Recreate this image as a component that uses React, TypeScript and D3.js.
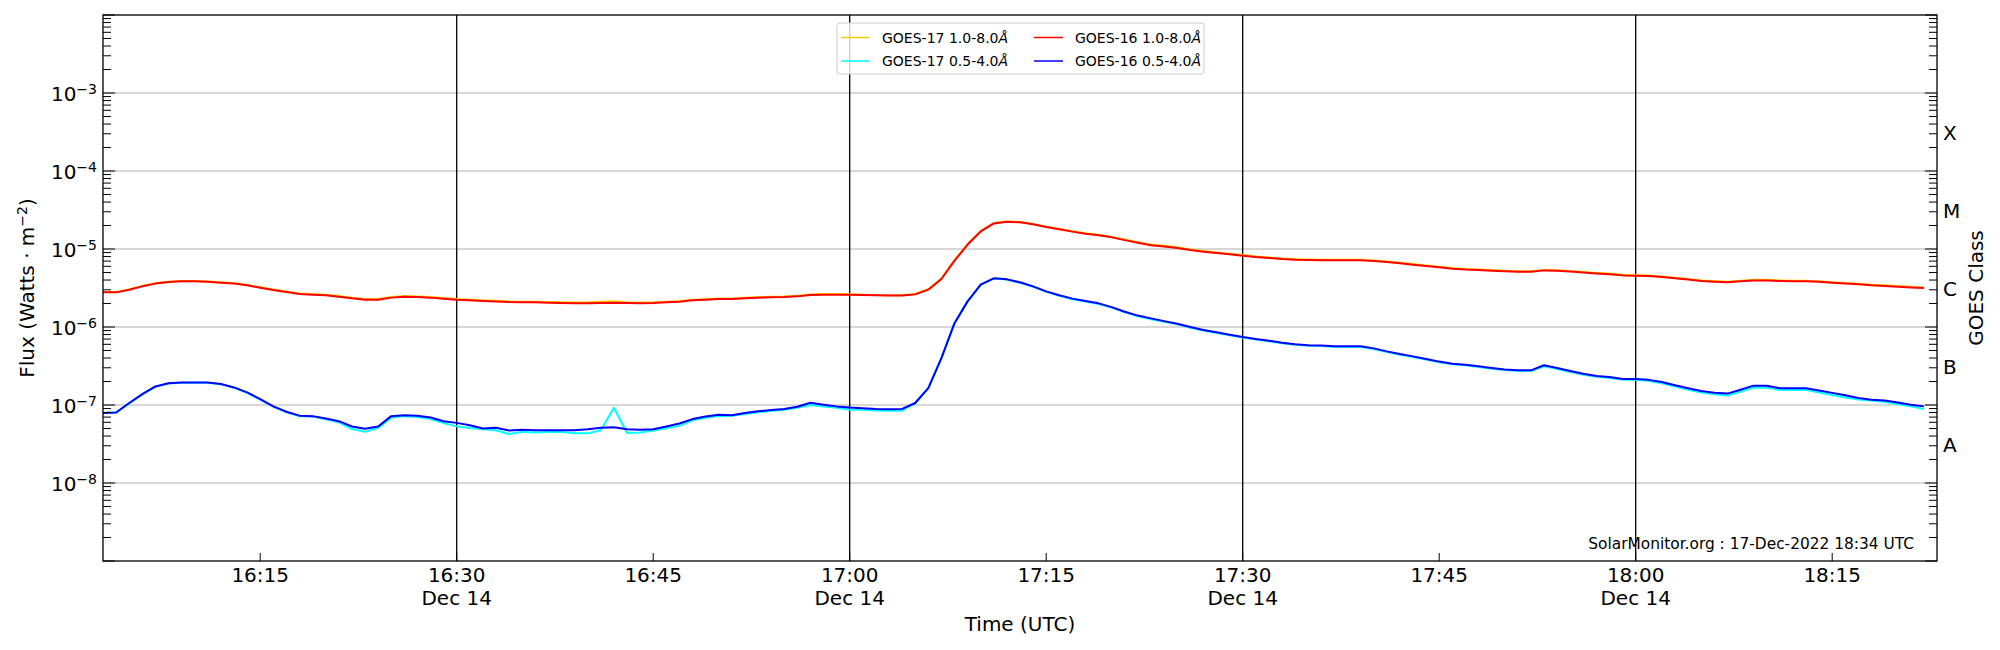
import { useEffect, useRef } from 'react';
import * as d3 from 'd3';

const WIDTH = 2000;
const HEIGHT = 650;

// one sample per minute, 16:03 -> 18:22 UTC
const START = new Date('2022-12-14T16:03:00Z');
const END = new Date('2022-12-14T18:23:00Z');

const GOES17_LONG = [
  2.82e-6, 2.82e-6, 3.05e-6, 3.36e-6, 3.64e-6, 3.81e-6, 3.89e-6, 3.89e-6, 3.84e-6, 3.74e-6,
  3.64e-6, 3.46e-6, 3.23e-6, 3.02e-6, 2.85e-6, 2.69e-6, 2.64e-6, 2.59e-6, 2.49e-6, 2.37e-6,
  2.28e-6, 2.28e-6, 2.42e-6, 2.49e-6, 2.46e-6, 2.42e-6, 2.35e-6, 2.28e-6, 2.24e-6, 2.2e-6,
  2.17e-6, 2.13e-6, 2.11e-6, 2.11e-6, 2.09e-6, 2.07e-6, 2.06e-6, 2.07e-6, 2.1e-6, 2.14e-6,
  2.08e-6, 2.06e-6, 2.07e-6, 2.11e-6, 2.15e-6, 2.24e-6, 2.28e-6, 2.32e-6, 2.32e-6, 2.37e-6,
  2.42e-6, 2.44e-6, 2.46e-6, 2.51e-6, 2.61e-6, 2.64e-6, 2.64e-6, 2.63e-6, 2.6e-6, 2.58e-6,
  2.56e-6, 2.56e-6, 2.65e-6, 3.05e-6, 4.17e-6, 7.15e-6, 1.15e-5, 1.7e-5, 2.15e-5, 2.26e-5,
  2.22e-5, 2.09e-5, 1.93e-5, 1.81e-5, 1.69e-5, 1.59e-5, 1.52e-5, 1.43e-5, 1.32e-5, 1.22e-5,
  1.14e-5, 1.1e-5, 1.05e-5, 9.85e-6, 9.4e-6, 9.03e-6, 8.68e-6, 8.35e-6, 8.02e-6, 7.79e-6,
  7.57e-6, 7.42e-6, 7.35e-6, 7.28e-6, 7.28e-6, 7.3e-6, 7.3e-6, 7.12e-6, 6.92e-6, 6.66e-6,
  6.41e-6, 6.15e-6, 5.92e-6, 5.7e-6, 5.55e-6, 5.47e-6, 5.37e-6, 5.27e-6, 5.19e-6, 5.19e-6,
  5.4e-6, 5.36e-6, 5.22e-6, 5.06e-6, 4.93e-6, 4.84e-6, 4.67e-6, 4.62e-6, 4.57e-6, 4.44e-6,
  4.28e-6, 4.12e-6, 3.96e-6, 3.88e-6, 3.81e-6, 3.91e-6, 4.02e-6, 4.02e-6, 3.95e-6, 3.91e-6,
  3.91e-6, 3.87e-6, 3.76e-6, 3.66e-6, 3.59e-6, 3.48e-6, 3.42e-6, 3.35e-6, 3.28e-6, 3.22e-6,
];

const GOES17_SHORT = [
  7.9e-8, 8.0e-8, 1.05e-7, 1.37e-7, 1.72e-7, 1.89e-7, 1.93e-7, 1.93e-7, 1.93e-7, 1.85e-7,
  1.66e-7, 1.43e-7, 1.17e-7, 9.5e-8, 8.1e-8, 7.16e-8, 7.1e-8, 6.55e-8, 6.0e-8, 4.92e-8,
  4.55e-8, 5.07e-8, 6.85e-8, 7.2e-8, 7.0e-8, 6.6e-8, 5.88e-8, 5.32e-8, 5.07e-8, 4.88e-8,
  4.75e-8, 4.25e-8, 4.55e-8, 4.45e-8, 4.5e-8, 4.5e-8, 4.33e-8, 4.33e-8, 4.75e-8, 9.2e-8,
  4.37e-8, 4.45e-8, 4.7e-8, 5.02e-8, 5.4e-8, 6.35e-8, 6.85e-8, 7.2e-8, 7.3e-8, 7.67e-8,
  8.07e-8, 8.38e-8, 8.7e-8, 9.2e-8, 1.0e-7, 9.6e-8, 9.2e-8, 8.7e-8, 8.7e-8, 8.5e-8,
  8.45e-8, 8.45e-8, 1.06e-7, 1.65e-7, 4.0e-7, 1.12e-6, 2.13e-6, 3.48e-6, 4.2e-6, 4.07e-6,
  3.68e-6, 3.27e-6, 2.82e-6, 2.51e-6, 2.27e-6, 2.12e-6, 1.97e-6, 1.77e-6, 1.54e-6, 1.37e-6,
  1.26e-6, 1.17e-6, 1.08e-6, 9.8e-7, 9.0e-7, 8.4e-7, 7.85e-7, 7.32e-7, 6.9e-7, 6.56e-7,
  6.2e-7, 5.9e-7, 5.75e-7, 5.7e-7, 5.55e-7, 5.55e-7, 5.55e-7, 5.22e-7, 4.78e-7, 4.42e-7,
  4.12e-7, 3.82e-7, 3.53e-7, 3.33e-7, 3.23e-7, 3.07e-7, 2.92e-7, 2.81e-7, 2.73e-7, 2.73e-7,
  3.13e-7, 2.9e-7, 2.65e-7, 2.45e-7, 2.31e-7, 2.22e-7, 2.11e-7, 2.11e-7, 2.03e-7, 1.9e-7,
  1.72e-7, 1.57e-7, 1.45e-7, 1.37e-7, 1.32e-7, 1.48e-7, 1.67e-7, 1.67e-7, 1.56e-7, 1.56e-7,
  1.57e-7, 1.45e-7, 1.34e-7, 1.25e-7, 1.18e-7, 1.14e-7, 1.09e-7, 1.03e-7, 9.6e-8, 8.9e-8,
];

const GOES16_LONG = [
  2.78e-6, 2.78e-6, 3.01e-6, 3.32e-6, 3.6e-6, 3.77e-6, 3.85e-6, 3.85e-6, 3.8e-6, 3.7e-6,
  3.6e-6, 3.42e-6, 3.19e-6, 2.98e-6, 2.81e-6, 2.65e-6, 2.6e-6, 2.55e-6, 2.45e-6, 2.33e-6,
  2.24e-6, 2.24e-6, 2.38e-6, 2.45e-6, 2.42e-6, 2.38e-6, 2.31e-6, 2.24e-6, 2.2e-6, 2.16e-6,
  2.13e-6, 2.09e-6, 2.07e-6, 2.07e-6, 2.05e-6, 2.03e-6, 2.02e-6, 2.02e-6, 2.03e-6, 2.05e-6,
  2.03e-6, 2.02e-6, 2.03e-6, 2.07e-6, 2.11e-6, 2.2e-6, 2.24e-6, 2.28e-6, 2.28e-6, 2.33e-6,
  2.38e-6, 2.4e-6, 2.42e-6, 2.47e-6, 2.57e-6, 2.6e-6, 2.6e-6, 2.6e-6, 2.57e-6, 2.55e-6,
  2.53e-6, 2.53e-6, 2.62e-6, 3.01e-6, 4.12e-6, 7.08e-6, 1.14e-5, 1.68e-5, 2.13e-5, 2.24e-5,
  2.2e-5, 2.07e-5, 1.91e-5, 1.79e-5, 1.67e-5, 1.57e-5, 1.5e-5, 1.41e-5, 1.3e-5, 1.2e-5,
  1.12e-5, 1.08e-5, 1.03e-5, 9.7e-6, 9.25e-6, 8.89e-6, 8.55e-6, 8.22e-6, 7.9e-6, 7.67e-6,
  7.45e-6, 7.3e-6, 7.23e-6, 7.16e-6, 7.16e-6, 7.16e-6, 7.16e-6, 7.0e-6, 6.81e-6, 6.55e-6,
  6.3e-6, 6.05e-6, 5.82e-6, 5.6e-6, 5.45e-6, 5.38e-6, 5.28e-6, 5.18e-6, 5.1e-6, 5.1e-6,
  5.32e-6, 5.28e-6, 5.14e-6, 4.98e-6, 4.85e-6, 4.76e-6, 4.59e-6, 4.55e-6, 4.5e-6, 4.37e-6,
  4.21e-6, 4.05e-6, 3.89e-6, 3.81e-6, 3.74e-6, 3.85e-6, 3.96e-6, 3.96e-6, 3.89e-6, 3.85e-6,
  3.85e-6, 3.81e-6, 3.7e-6, 3.6e-6, 3.53e-6, 3.42e-6, 3.36e-6, 3.29e-6, 3.22e-6, 3.16e-6,
];

const GOES16_SHORT = [
  7.9e-8, 8.0e-8, 1.06e-7, 1.38e-7, 1.73e-7, 1.9e-7, 1.94e-7, 1.94e-7, 1.94e-7, 1.86e-7,
  1.68e-7, 1.45e-7, 1.19e-7, 9.6e-8, 8.2e-8, 7.3e-8, 7.2e-8, 6.7e-8, 6.2e-8, 5.3e-8,
  4.97e-8, 5.3e-8, 7.2e-8, 7.4e-8, 7.3e-8, 6.9e-8, 6.2e-8, 5.9e-8, 5.5e-8, 5.0e-8,
  5.1e-8, 4.7e-8, 4.8e-8, 4.75e-8, 4.75e-8, 4.75e-8, 4.75e-8, 4.9e-8, 5.1e-8, 5.2e-8,
  4.9e-8, 4.8e-8, 4.9e-8, 5.3e-8, 5.8e-8, 6.6e-8, 7.1e-8, 7.5e-8, 7.4e-8, 7.9e-8,
  8.3e-8, 8.6e-8, 8.9e-8, 9.5e-8, 1.07e-7, 1.01e-7, 9.6e-8, 9.3e-8, 9.1e-8, 8.9e-8,
  8.8e-8, 8.9e-8, 1.06e-7, 1.65e-7, 4.0e-7, 1.12e-6, 2.13e-6, 3.49e-6, 4.21e-6, 4.08e-6,
  3.74e-6, 3.32e-6, 2.86e-6, 2.55e-6, 2.31e-6, 2.16e-6, 2.01e-6, 1.8e-6, 1.57e-6, 1.4e-6,
  1.29e-6, 1.19e-6, 1.1e-6, 1.0e-6, 9.16e-7, 8.55e-7, 7.98e-7, 7.45e-7, 7.02e-7, 6.68e-7,
  6.3e-7, 6.0e-7, 5.85e-7, 5.8e-7, 5.65e-7, 5.65e-7, 5.65e-7, 5.32e-7, 4.87e-7, 4.5e-7,
  4.2e-7, 3.89e-7, 3.6e-7, 3.39e-7, 3.28e-7, 3.13e-7, 2.98e-7, 2.86e-7, 2.78e-7, 2.78e-7,
  3.23e-7, 2.98e-7, 2.73e-7, 2.52e-7, 2.36e-7, 2.29e-7, 2.16e-7, 2.16e-7, 2.1e-7, 1.97e-7,
  1.79e-7, 1.64e-7, 1.51e-7, 1.44e-7, 1.4e-7, 1.57e-7, 1.77e-7, 1.77e-7, 1.64e-7, 1.64e-7,
  1.64e-7, 1.53e-7, 1.43e-7, 1.33e-7, 1.23e-7, 1.17e-7, 1.14e-7, 1.08e-7, 1.01e-7, 9.6e-8,
];

// legend order (matplotlib fills columns first)
const SERIES = [
  { name: 'GOES-17 1.0-8.0', color: '#ffcc00', values: GOES17_LONG },
  { name: 'GOES-17 0.5-4.0', color: '#00ffff', values: GOES17_SHORT },
  { name: 'GOES-16 1.0-8.0', color: '#ff0000', values: GOES16_LONG },
  { name: 'GOES-16 0.5-4.0', color: '#0000ff', values: GOES16_SHORT },
];

const Y_TICK_EXPONENTS = [-3, -4, -5, -6, -7, -8];
const CLASS_LABELS = ['A', 'B', 'C', 'M', 'X'];
const CLASS_EXPONENTS = [-7.5, -6.5, -5.5, -4.5, -3.5];
const DATE_LABEL = 'Dec 14';
const STAMP = 'SolarMonitor.org : 17-Dec-2022 18:34 UTC';

const FONT = '"DejaVu Sans", sans-serif';

export default function App() {
  const svgRef = useRef<SVGSVGElement>(null);

  useEffect(() => {
    if (!svgRef.current) return;
    const svg = d3.select(svgRef.current);
    svg.selectAll('*').remove();

    const margin = { top: 15, right: 63, bottom: 89, left: 103 };
    const x0 = margin.left;
    const x1 = WIDTH - margin.right;
    const y0 = margin.top;
    const y1 = HEIGHT - margin.bottom;

    const times = d3.utcMinutes(START, END);

    const x = d3.scaleUtc().domain([START, END]).range([x0, x1]);
    const y = d3.scaleLog().domain([1e-9, 1e-2]).range([y1, y0]);

    svg.append('rect').attr('width', WIDTH).attr('height', HEIGHT).attr('fill', 'white');

    // horizontal grid at each decade
    const decades = d3.range(-8, -2).map((e) => Math.pow(10, e));
    svg
      .append('g')
      .selectAll('line')
      .data(decades)
      .enter()
      .append('line')
      .attr('x1', x0)
      .attr('x2', x1)
      .attr('y1', (d) => y(d))
      .attr('y2', (d) => y(d))
      .attr('stroke', '#b0b0b0')
      .attr('stroke-width', 1.1);

    // vertical black lines every half hour
    const halfHours = d3.utcMinute.every(30)!.range(START, END);
    svg
      .append('g')
      .selectAll('line')
      .data(halfHours)
      .enter()
      .append('line')
      .attr('x1', (d) => x(d))
      .attr('x2', (d) => x(d))
      .attr('y1', y0)
      .attr('y2', y1)
      .attr('stroke', 'black')
      .attr('stroke-width', 1.3);

    // data lines
    const line = d3
      .line<number>()
      .x((_, i) => x(times[i]))
      .y((d) => y(d));

    SERIES.forEach((s) => {
      svg
        .append('path')
        .datum(s.values)
        .attr('d', line)
        .attr('fill', 'none')
        .attr('stroke', s.color)
        .attr('stroke-width', 2)
        .attr('stroke-linejoin', 'round');
    });

    // log ticks (major + minor), inward on both sides
    const ticks: { v: number; major: boolean }[] = [];
    for (let e = -9; e <= -2; e++) {
      ticks.push({ v: Math.pow(10, e), major: true });
      if (e < -2) for (let m = 2; m <= 9; m++) ticks.push({ v: m * Math.pow(10, e), major: false });
    }
    const tickG = svg.append('g').attr('stroke', 'black').attr('stroke-width', 1);
    ticks.forEach((t) => {
      const len = t.major ? 12 : 8;
      const ty = y(t.v);
      tickG.append('line').attr('x1', x0).attr('x2', x0 + len).attr('y1', ty).attr('y2', ty);
      tickG.append('line').attr('x1', x1).attr('x2', x1 - len).attr('y1', ty).attr('y2', ty);
    });

    // x ticks every 15 min
    const quarterHours = d3.utcMinute.every(15)!.range(START, END);
    quarterHours.forEach((t) => {
      tickG.append('line').attr('x1', x(t)).attr('x2', x(t)).attr('y1', y1).attr('y2', y1 - 8);
    });

    // frame
    svg
      .append('rect')
      .attr('x', x0)
      .attr('y', y0)
      .attr('width', x1 - x0)
      .attr('height', y1 - y0)
      .attr('fill', 'none')
      .attr('stroke', 'black')
      .attr('stroke-width', 1.3);

    const txt = svg.append('g').attr('font-family', FONT).attr('fill', 'black');

    // y tick labels 10^n
    Y_TICK_EXPONENTS.forEach((e) => {
      const t = txt
        .append('text')
        .attr('x', x0 - 6)
        .attr('y', y(Math.pow(10, e)) + 7.5)
        .attr('text-anchor', 'end')
        .attr('font-size', 20)
        .text('10');
      t.append('tspan').attr('dy', -7).attr('font-size', 14).text(`\u2212${-e}`);
    });

    // x tick labels
    const fmt = d3.utcFormat('%H:%M');
    quarterHours.forEach((t) => {
      txt
        .append('text')
        .attr('x', x(t))
        .attr('y', 582)
        .attr('text-anchor', 'middle')
        .attr('font-size', 20)
        .text(fmt(t));
      if (t.getUTCMinutes() % 30 === 0) {
        txt
          .append('text')
          .attr('x', x(t))
          .attr('y', 605)
          .attr('text-anchor', 'middle')
          .attr('font-size', 20)
          .text(DATE_LABEL);
      }
    });

    // axis titles
    txt
      .append('text')
      .attr('x', (x0 + x1) / 2)
      .attr('y', 631)
      .attr('text-anchor', 'middle')
      .attr('font-size', 20)
      .text('Time (UTC)');

    const yl = txt
      .append('text')
      .attr('transform', `translate(34,${(y0 + y1) / 2}) rotate(-90)`)
      .attr('text-anchor', 'middle')
      .attr('font-size', 20)
      .text('Flux (Watts \u00b7 m');
    yl.append('tspan').attr('dy', -7).attr('font-size', 14).text('\u22122');
    yl.append('tspan').attr('dy', 7).text(')');

    // GOES class letters on the right
    CLASS_LABELS.forEach((c, i) => {
      txt
        .append('text')
        .attr('x', x1 + 6)
        .attr('y', y(Math.pow(10, CLASS_EXPONENTS[i])) + 7.5)
        .attr('font-size', 20)
        .text(c);
    });
    txt
      .append('text')
      .attr('transform', `translate(1983,${(y0 + y1) / 2}) rotate(-90)`)
      .attr('text-anchor', 'middle')
      .attr('font-size', 20)
      .text('GOES Class');

    // stamp
    txt
      .append('text')
      .attr('x', 1914)
      .attr('y', 549)
      .attr('text-anchor', 'end')
      .attr('font-size', 15.4)
      .text(STAMP);

    // legend
    const legend = svg.append('g').attr('font-family', FONT);
    legend
      .append('rect')
      .attr('x', 837)
      .attr('y', 23)
      .attr('width', 367)
      .attr('height', 51)
      .attr('rx', 3)
      .attr('fill', 'white')
      .attr('fill-opacity', 0.8)
      .attr('stroke', '#cccccc')
      .attr('stroke-width', 1);

    const colX = [841, 1034];
    const rowY = [37.5, 61];
    SERIES.forEach((s, i) => {
      const cx = colX[Math.floor(i / 2)];
      const ry = rowY[i % 2];
      legend
        .append('line')
        .attr('x1', cx)
        .attr('x2', cx + 29)
        .attr('y1', ry)
        .attr('y2', ry)
        .attr('stroke', s.color)
        .attr('stroke-width', 1.5);
      const t = legend
        .append('text')
        .attr('x', cx + 41)
        .attr('y', ry + 5)
        .attr('font-size', 14)
        .text(s.name);
      t.append('tspan').attr('font-style', 'italic').text('\u00c5');
    });
  }, []);

  return (
    <svg
      ref={svgRef}
      width={WIDTH}
      height={HEIGHT}
      style={{ position: 'absolute', left: 0, top: 0 }}
    />
  );
}
